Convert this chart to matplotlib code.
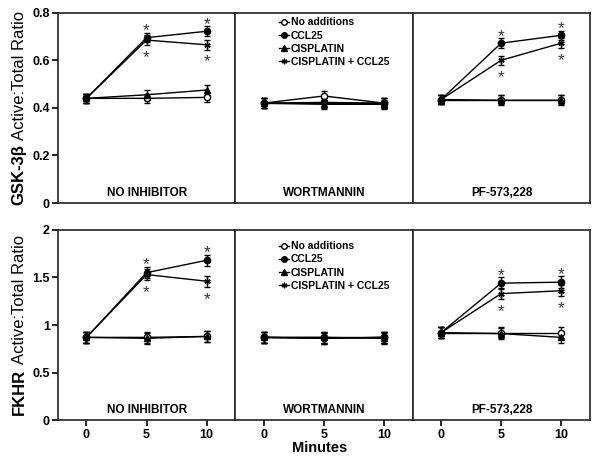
import matplotlib
matplotlib.use("Agg")
from matplotlib import pyplot as plt
from matplotlib.lines import Line2D

plt.rcParams["font.family"] = ["Liberation Sans", "DejaVu Sans"]

minutes = [0, 5, 10]
series_names = ["No additions", "CCL25", "CISPLATIN", "CISPLATIN + CCL25"]
panel_titles = ["NO INHIBITOR", "WORTMANNIN", "PF-573,228"]

# GSK-3beta active:total ratio, one list per series, per inhibitor panel.
gsk_none = [[0.44, 0.44, 0.444], [0.42, 0.45, 0.42], [0.435, 0.435, 0.435]]
gsk_ccl25 = [[0.44, 0.695, 0.722], [0.42, 0.423, 0.42], [0.435, 0.672, 0.705]]
gsk_cis = [[0.44, 0.455, 0.475], [0.42, 0.415, 0.415], [0.435, 0.432, 0.432]]
gsk_cis_ccl25 = [[0.44, 0.685, 0.665], [0.42, 0.42, 0.42], [0.435, 0.60, 0.672]]
gsk_err = [0.02, 0.02, 0.02]

# FKHR active:total ratio.
fkhr_none = [[0.87, 0.87, 0.88], [0.87, 0.87, 0.87], [0.92, 0.92, 0.92]]
fkhr_ccl25 = [[0.87, 1.55, 1.68], [0.87, 0.86, 0.87], [0.92, 1.44, 1.45]]
fkhr_cis = [[0.87, 0.86, 0.88], [0.87, 0.87, 0.86], [0.92, 0.91, 0.87]]
fkhr_cis_ccl25 = [[0.87, 1.53, 1.46], [0.87, 0.86, 0.87], [0.92, 1.33, 1.36]]
fkhr_err = [0.06, 0.06, 0.06]

# Significance stars: (series index, minute index, above?) per panel.
gsk_stars = [
    [(1, 1, True), (3, 1, False), (1, 2, True), (3, 2, False)],
    [],
    [(1, 1, True), (3, 1, False), (1, 2, True), (3, 2, False)],
]
fkhr_stars = gsk_stars

MARKERS = [
    dict(marker="o", markerfacecolor="white"),
    dict(marker="o", markerfacecolor="black"),
    dict(marker="^", markerfacecolor="black"),
    dict(marker=(6, 2, 0), markerfacecolor="black"),
]

rows = [
    dict(data=[gsk_none, gsk_ccl25, gsk_cis, gsk_cis_ccl25], err=gsk_err,
         stars=gsk_stars, ylim=(0, 0.8), yticks=[0, 0.2, 0.4, 0.6, 0.8],
         yticklabels=["0", "0.2", "0.4", "0.6", "0.8"],
         label=("GSK-3β", "Active:Total Ratio"), bottom=0.568, xticks=False,
         legend_y=1.035),
    dict(data=[fkhr_none, fkhr_ccl25, fkhr_cis, fkhr_cis_ccl25], err=fkhr_err,
         stars=fkhr_stars, ylim=(0, 2), yticks=[0, 0.5, 1, 1.5, 2],
         yticklabels=["0", "0.5", "1", "1.5", "2"],
         label=("FKHR", "Active:Total Ratio"), bottom=0.106, xticks=True,
         legend_y=1.0),
]

fig = plt.figure(figsize=(6, 4.7), dpi=100)

left = 0.097
width = 0.2955
height = 0.405

ylabels = []

for row in rows:
    axes = []
    for p in range(3):
        ax = fig.add_axes([left + p * width, row["bottom"], width, height])
        axes.append(ax)
        for s in range(4):
            ax.errorbar(
                minutes, row["data"][s][p], yerr=row["err"], color="black",
                lw=1, ms=4.5, mew=1, capsize=2.5, elinewidth=1,
                **MARKERS[s],
            )
        for s, m, above in row["stars"][p]:
            y = row["data"][s][p][m]
            y = y + row["err"][m] if above else y - row["err"][m]
            ax.annotate(
                "*", (minutes[m], y), xytext=(0, 1.5 if above else -9),
                textcoords="offset points", ha="center", va="center",
                fontsize=12.5, color="#333333",
            )
        ax.set_xlim(-2.35, 12.4)
        ax.set_ylim(*row["ylim"])
        ax.text(0.5, 0.055, panel_titles[p], transform=ax.transAxes,
                ha="center", va="center", fontsize=8.5, fontweight="bold")
        for sp in ax.spines.values():
            sp.set_linewidth(1.2)
            sp.set_color("#222222")
        if p == 0:
            ax.set_yticks(row["yticks"])
            ax.set_yticklabels(row["yticklabels"], fontweight="bold",
                               fontsize=9)
        else:
            ax.set_yticks([])
        if row["xticks"]:
            ax.set_xticks(minutes)
            ax.set_xticklabels([str(m) for m in minutes], fontweight="bold",
                               fontsize=9)
        else:
            ax.set_xticks([])
        ax.tick_params(direction="out", length=4, width=1.2, pad=2)

    handles = [
        Line2D([], [], color="black", lw=1, ms=4, mew=1, **MARKERS[s])
        for s in range(4)
    ]
    axes[1].legend(
        handles, series_names,
        loc="upper left", bbox_to_anchor=(0.18, row["legend_y"]),
        frameon=False, prop=dict(weight="bold", size=7.5), handlelength=1.0,
        handletextpad=0.15, labelspacing=0.3, borderpad=0.6,
    )

    # Y label: bold gene name followed by normal text.
    yc = row["bottom"] + height / 2
    t1 = fig.text(0.032, yc, row["label"][0], rotation=90,
                  fontsize=12, fontweight="bold", ha="center", va="center")
    t2 = axes[0].annotate(row["label"][1], xy=(0.5, 1.0), xycoords=t1,
                          xytext=(0, 3), textcoords="offset points",
                          rotation=90, fontsize=12, ha="center",
                          va="bottom")
    ylabels.append((t1, t2, yc))

fig.text(0.533, 0.047, "Minutes", ha="center", va="center", fontsize=10.5,
         fontweight="bold")

# Centre each two-part y label on its row.
fig.canvas.draw()
renderer = fig.canvas.get_renderer()
for t1, t2, yc in ylabels:
    b1 = t1.get_window_extent(renderer)
    b2 = t2.get_window_extent(renderer)
    mid = (b1.y0 + b2.y1) / 2 / fig.bbox.height
    t1.set_y(yc - (mid - yc))

fig.savefig("out.png", dpi=100)
